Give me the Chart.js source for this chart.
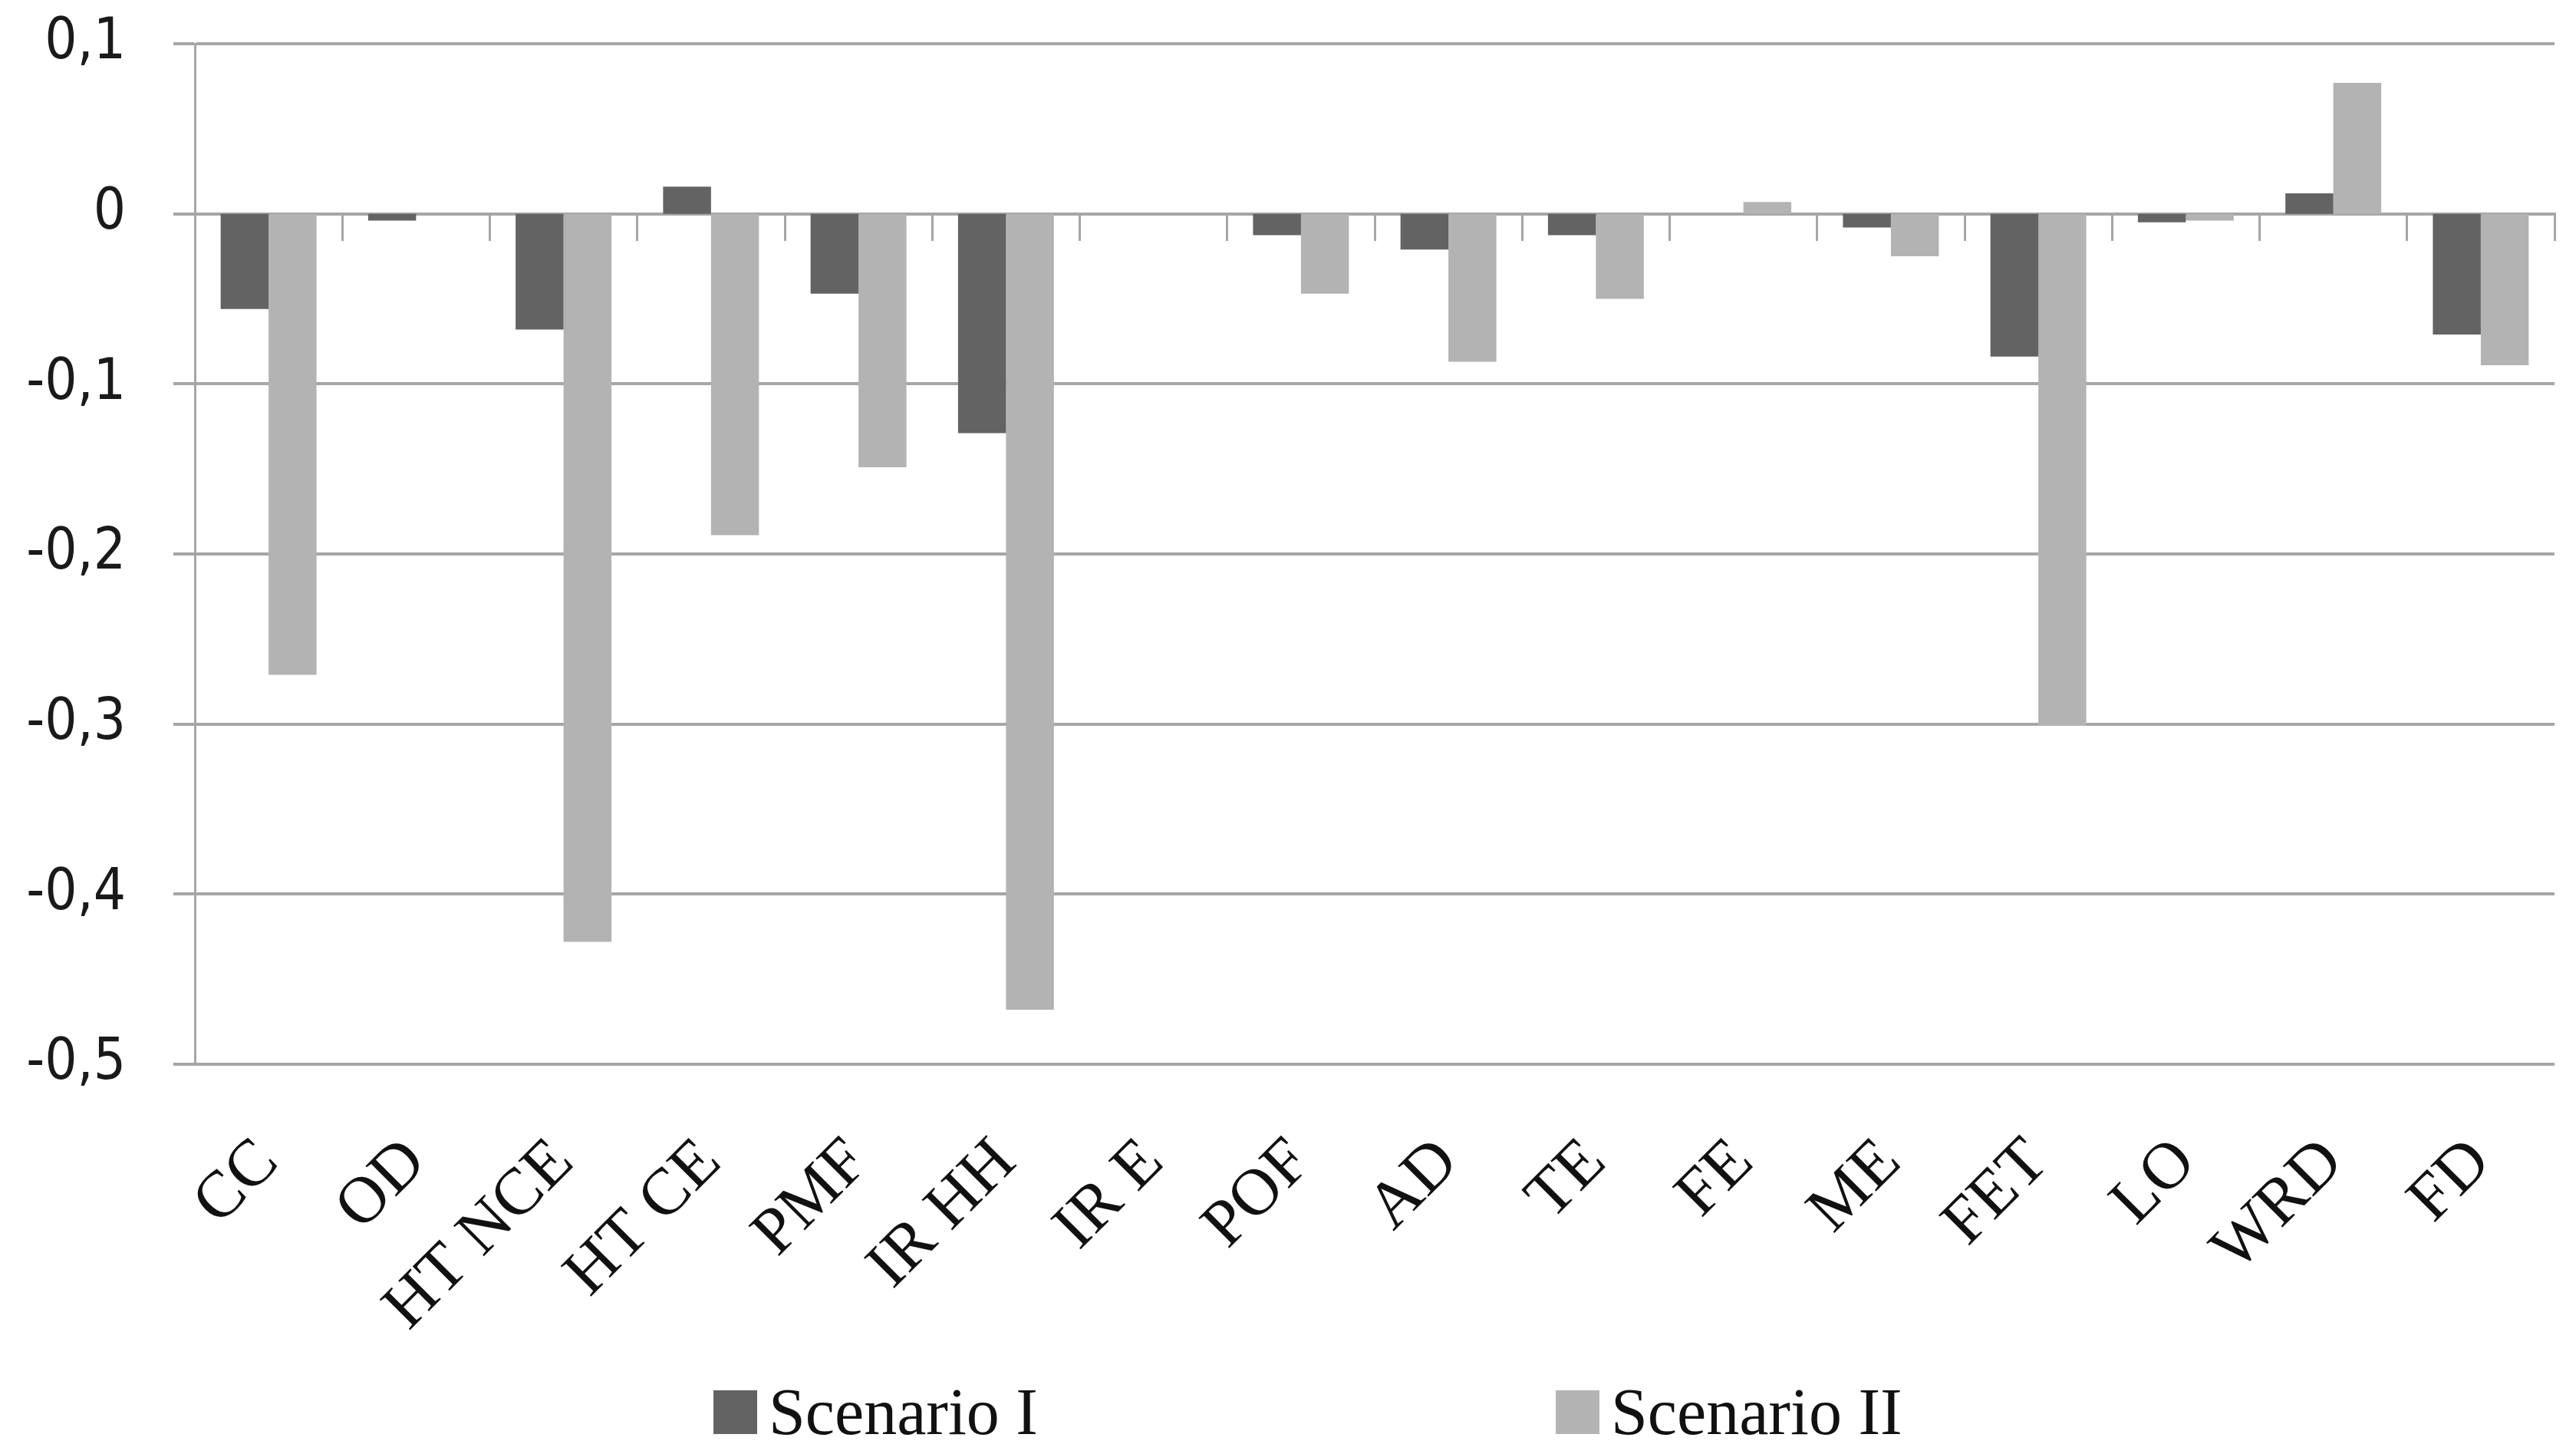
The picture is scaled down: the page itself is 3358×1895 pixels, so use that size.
<!DOCTYPE html>
<html>
<head>
<meta charset="utf-8">
<script src="https://cdn.jsdelivr.net/npm/chart.js@4.4.0/dist/chart.umd.min.js"></script>
<style>
html, body { margin: 0; padding: 0; background: #fff; }
#wrap { position: relative; width: 3358px; height: 1895px; }
#legend { position: absolute; left: 930px; top: 1812px; display: flex; gap: 675px; margin: 0; padding: 0; list-style: none; }
#legend li { display: flex; align-items: center; height: 57px; }
#legend .box { width: 57px; height: 57px; margin-right: 15px; }
#legend .txt { font: 86px "Liberation Serif", serif; color: #111; line-height: 57px; }
</style>
</head>
<body>
<div id="wrap">
<canvas id="barChart" width="3358" height="1895"></canvas>
<ul id="legend"></ul>
</div>
<script>
var categories = ["CC", "OD", "HT NCE", "HT CE", "PMF", "IR HH", "IR E", "POF", "AD", "TE", "FE", "ME", "FET", "LO", "WRD", "FD"];
var scenario1 = [-0.056, -0.004, -0.068, 0.016, -0.047, -0.129, 0, -0.0125, -0.021, -0.0125, 0, -0.008, -0.084, -0.005, 0.012, -0.071];
var scenario2 = [-0.271, 0, -0.428, -0.189, -0.149, -0.468, 0, -0.047, -0.087, -0.05, 0.007, -0.025, -0.301, -0.004, 0.077, -0.089];
var yTickLabels = ["-0,5", "-0,4", "-0,3", "-0,2", "-0,1", "0", "0,1"];

var gridColor = '#a6a6a6';

// html legend, so the two items can sit far apart like in the original
var htmlLegend = {
  id: 'htmlLegend',
  afterUpdate: function (chart) {
    var ul = document.getElementById('legend');
    ul.innerHTML = '';
    var items = chart.options.plugins.legend.labels.generateLabels(chart);
    items.forEach(function (item) {
      var li = document.createElement('li');
      var box = document.createElement('span');
      box.className = 'box';
      box.style.background = item.fillStyle;
      var txt = document.createElement('span');
      txt.className = 'txt';
      txt.textContent = item.text;
      li.appendChild(box);
      li.appendChild(txt);
      ul.appendChild(li);
    });
  }
};

var ctxB = document.getElementById("barChart").getContext('2d');
var myBarChart = new Chart(ctxB, {
type: 'bar',
data: {
labels: categories,
datasets: [{
label: "Scenario I",
data: scenario1,
backgroundColor: '#636363',
borderWidth: 0
},
{
label: "Scenario II",
data: scenario2,
backgroundColor: '#b3b3b3',
borderWidth: 0
}
]
},
options: {
responsive: false,
animation: false,
devicePixelRatio: 1,
layout: { padding: { top: 57, right: 28, bottom: 0, left: 0 } },
categoryPercentage: 0.65,
barPercentage: 1,
plugins: {
legend: { display: false },
tooltip: { enabled: false }
},
scales: {
x: {
offset: true,
grid: { display: false, drawTicks: false },
border: { display: false },
ticks: {
autoSkip: false,
minRotation: 45,
maxRotation: 45,
padding: 78,
color: '#111',
font: { family: '"Liberation Serif", serif', size: 86 }
},
afterFit: function (scale) {
  scale.height = 508;
  scale.paddingLeft = 0;
  scale.paddingRight = 0;
}
},
x2: {
type: 'category',
labels: categories,
position: { y: 0 },
offset: true,
grid: { display: true, offset: true, drawOnChartArea: false, drawTicks: true, tickLength: 33, color: gridColor, lineWidth: 3 },
border: { display: true, color: gridColor, width: 4 },
ticks: { display: false }
},
y: {
min: -0.5,
max: 0.1,
grid: { color: gridColor, lineWidth: 4, drawTicks: true, tickLength: 28 },
border: { display: true, color: gridColor, width: 3 },
ticks: {
stepSize: 0.1,
padding: 62,
color: '#1a1a1a',
font: { family: '"Liberation Sans Narrow", "DejaVu Sans Condensed", sans-serif', size: 74 },
callback: function (value, index) { return yTickLabels[index]; }
},
afterFit: function (scale) {
  scale.width = 254;
  scale.paddingTop = 0;
  scale.paddingBottom = 0;
}
}
}
},
plugins: [htmlLegend]
});
</script>
</body>
</html>
